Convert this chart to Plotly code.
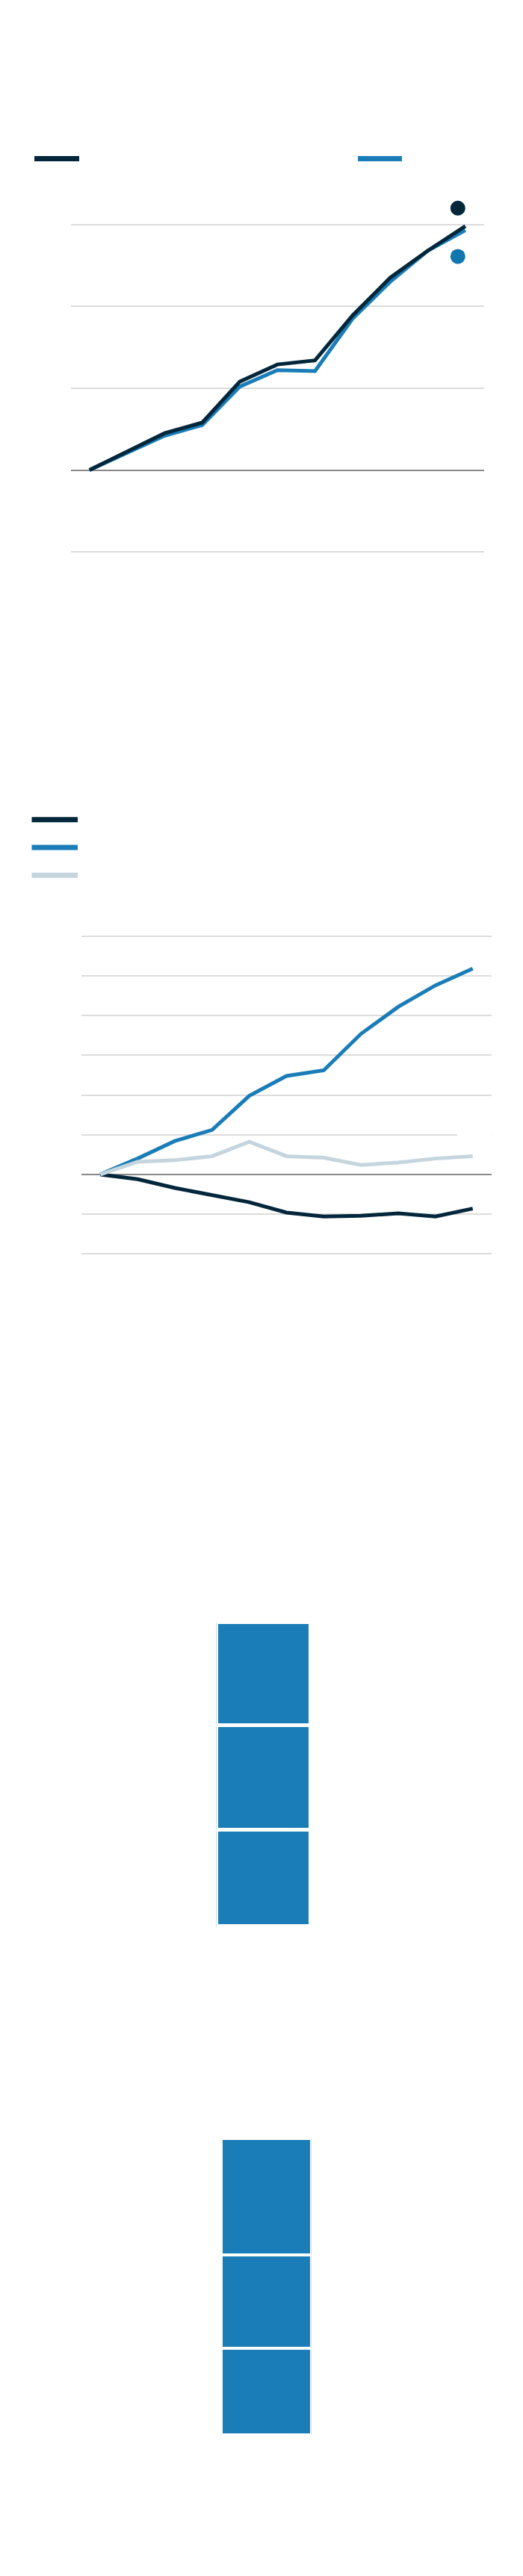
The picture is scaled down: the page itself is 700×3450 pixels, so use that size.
import plotly.graph_objects as go

# page has an 8px body margin, so figure pixels are page pixels minus 8
OFF = 8
W, H = 700 - 2 * OFF, 3450 - 2 * OFF

# ---------------- data ----------------
periods = list(range(11))

# chart 1 (two nearly identical series)
c1_dark = [0, 2.3, 4.5, 5.8, 10.8, 12.9, 13.4, 18.9, 23.5, 26.8, 29.8]
c1_blue = [0, 2.1, 4.2, 5.5, 10.2, 12.2, 12.1, 18.5, 23.0, 26.8, 29.3]
c1_dot_x = [9.8, 9.8]
c1_dot_y = [32.0, 26.1]
c1_ticks = [-10, 0, 10, 20, 30]

# chart 2 (three series)
c2_dark = [0, -0.6, -1.7, -2.6, -3.5, -4.8, -5.3, -5.2, -4.9, -5.3, -4.3]
c2_blue = [0, 2.0, 4.2, 5.6, 9.9, 12.4, 13.1, 17.7, 21.1, 23.8, 25.9]
c2_light = [0, 1.6, 1.8, 2.3, 4.1, 2.3, 2.1, 1.2, 1.5, 2.0, 2.3]
c2_ticks = [-10, -5, 0, 5, 10, 15, 20, 25, 30]

# chart 3 and chart 4 (stacked shares, bottom -> top)
c3_shares = [31.6, 34.4, 34.0]
c4_shares = [29.2, 31.6, 39.2]

DARK = "#03263a"
BLUE = "#1a7db7"
DOT_BLUE = "#1176b0"
LIGHT = "#c5d5de"
GRID = "#dcdcdc"
ZERO = "#888888"
LW = 5


def px_x(p):
    return (p - OFF) / W


def px_y(p):
    return 1 - (p - OFF) / H


def xd(l, r):
    return [px_x(l), px_x(r)]


def yd(top, bottom):
    return [px_y(bottom), px_y(top)]


def yrange(top, bottom, zero_px, px_per_unit):
    return [(zero_px - bottom) / px_per_unit, (zero_px - top) / px_per_unit]


fig = go.Figure()

# ---- chart 1 ----
fig.add_trace(go.Scatter(x=periods, y=c1_blue, mode="lines",
                         line=dict(color=BLUE, width=LW), xaxis="x", yaxis="y"))
fig.add_trace(go.Scatter(x=periods, y=c1_dark, mode="lines",
                         line=dict(color=DARK, width=LW), xaxis="x", yaxis="y"))
fig.add_trace(go.Scatter(x=c1_dot_x, y=c1_dot_y, mode="markers",
                         marker=dict(size=20, color=[DARK, DOT_BLUE]),
                         cliponaxis=False, xaxis="x", yaxis="y"))

# ---- chart 2 ----
fig.add_trace(go.Scatter(x=periods, y=c2_dark, mode="lines",
                         line=dict(color=DARK, width=LW), xaxis="x2", yaxis="y2"))
fig.add_trace(go.Scatter(x=periods, y=c2_blue, mode="lines",
                         line=dict(color=BLUE, width=LW), xaxis="x2", yaxis="y2"))
fig.add_trace(go.Scatter(x=periods, y=c2_light, mode="lines",
                         line=dict(color=LIGHT, width=LW), xaxis="x2", yaxis="y2"))

# ---- chart 3 ----
for v in c3_shares:
    fig.add_trace(go.Bar(x=[0], y=[v], width=1,
                         marker=dict(color=BLUE, line=dict(color="white", width=5)),
                         xaxis="x3", yaxis="y3"))
# ---- chart 4 ----
for v in c4_shares:
    fig.add_trace(go.Bar(x=[0], y=[v], width=1,
                         marker=dict(color=BLUE, line=dict(color="white", width=4.5)),
                         xaxis="x4", yaxis="y4"))

noax = dict(showgrid=False, zeroline=False, showticklabels=False, ticks="", showline=False, fixedrange=True)

c3_top, c3_bot = 2172.5, 2580.1
c3_ppu = (c3_bot - c3_top) / sum(c3_shares)
c4_top, c4_bot = 2864.25, 3261.35
c4_ppu = (c4_bot - c4_top) / sum(c4_shares)

fig.update_layout(
    width=W, height=H,
    margin=dict(l=0, r=0, t=0, b=0),
    paper_bgcolor="white", plot_bgcolor="white",
    showlegend=False, barmode="stack", bargap=0,
    hovermode=False,
    xaxis=dict(domain=xd(94.6, 648), range=[-0.5, 10.5], anchor="y", **noax),
    yaxis=dict(domain=yd(250, 760), range=yrange(250, 760, 629.5, 10.96), anchor="x",
               tickvals=c1_ticks, showgrid=True, gridcolor=GRID, gridwidth=1.5,
               zeroline=True, zerolinecolor=ZERO, zerolinewidth=1.5,
               showticklabels=False, ticks="", fixedrange=True),
    xaxis2=dict(domain=xd(109.4, 657.6), range=[-0.5, 10.5], anchor="y2", **noax),
    yaxis2=dict(domain=yd(1240, 1690), range=yrange(1240, 1690, 1572.9, 10.64), anchor="x2",
                tickvals=c2_ticks, showgrid=True, gridcolor=GRID, gridwidth=1.5,
                zeroline=True, zerolinecolor=ZERO, zerolinewidth=1.5,
                showticklabels=False, ticks="", fixedrange=True),
    xaxis3=dict(domain=xd(289.5, 415), range=[-0.5, 0.5], anchor="y3", **noax),
    yaxis3=dict(domain=yd(2100, 2620), range=yrange(2100, 2620, c3_bot, c3_ppu), anchor="x3", **noax),
    xaxis4=dict(domain=xd(296.05, 416.55), range=[-0.5, 0.5], anchor="y4", **noax),
    yaxis4=dict(domain=yd(2800, 3300), range=yrange(2800, 3300, c4_bot, c4_ppu), anchor="x4", **noax),
)

shapes = []
# legend swatches (chart 1)
for x0, x1, col in [(46, 106, DARK), (479, 538, BLUE)]:
    shapes.append(dict(type="line", xref="paper", yref="paper",
                       x0=px_x(x0), x1=px_x(x1), y0=px_y(212.5), y1=px_y(212.5),
                       line=dict(color=col, width=7)))
# legend swatches (chart 2)
for yy, col in [(1097.7, DARK), (1135, BLUE), (1172.3, LIGHT)]:
    shapes.append(dict(type="line", xref="paper", yref="paper",
                       x0=px_x(42.5), x1=px_x(104), y0=px_y(yy), y1=px_y(yy),
                       line=dict(color=col, width=7)))
# label background interrupting one gridline in chart 2
shapes.append(dict(type="rect", xref="x2", yref="y2", x0=9.59, x1=10.6, y0=4.6, y1=5.4,
                   fillcolor="white", line=dict(width=0), layer="between"))
fig.update_layout(shapes=shapes)

fig.write_html("out.html")
